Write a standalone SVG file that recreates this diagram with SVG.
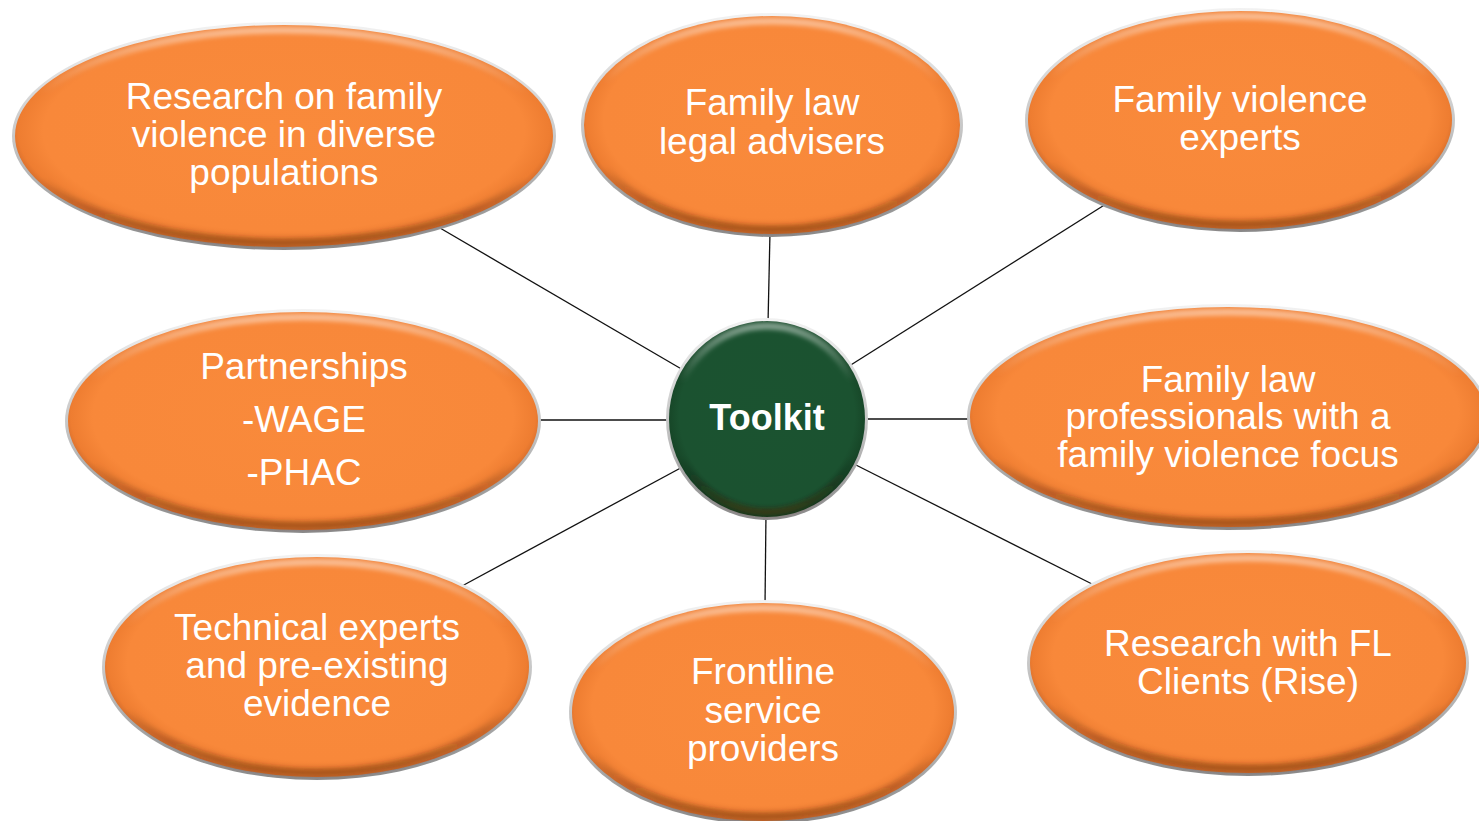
<svg xmlns="http://www.w3.org/2000/svg" width="1479" height="821" viewBox="0 0 1479 821">
  <defs>
    <!-- silver rim around every bubble -->
    <linearGradient id="rimGrad" x1="0" y1="0" x2="0" y2="1">
      <stop offset="0" stop-color="#f2f2f2"/>
      <stop offset="0.5" stop-color="#c8c8c8"/>
      <stop offset="1" stop-color="#8c8c8c"/>
    </linearGradient>
    <!-- orange body -->
    <radialGradient id="orangeBody" cx="0.5" cy="0.48" r="0.52">
      <stop offset="0" stop-color="#f98a3b"/>
      <stop offset="0.86" stop-color="#f8883a"/>
      <stop offset="0.95" stop-color="#ee7d31"/>
      <stop offset="1" stop-color="#c9662a"/>
    </radialGradient>
    <!-- green body -->
    <radialGradient id="greenBody" cx="0.5" cy="0.48" r="0.52">
      <stop offset="0" stop-color="#1b5330"/>
      <stop offset="0.86" stop-color="#1b5230"/>
      <stop offset="0.96" stop-color="#174728"/>
      <stop offset="1" stop-color="#0f3a1f"/>
    </radialGradient>
    <!-- bevel: light upper edge, darker lower edge -->
    <linearGradient id="bevelGrad" x1="0" y1="0" x2="0" y2="1">
      <stop offset="0" stop-color="#ffffff" stop-opacity="0.45"/>
      <stop offset="0.3" stop-color="#ffffff" stop-opacity="0"/>
      <stop offset="0.7" stop-color="#000000" stop-opacity="0"/>
      <stop offset="1" stop-color="#5a2a08" stop-opacity="0.45"/>
    </linearGradient>
    <filter id="soft" x="-5%" y="-5%" width="110%" height="110%">
      <feGaussianBlur stdDeviation="2"/>
    </filter>
    <style>
      .rim { fill: url(#rimGrad); }
      .body { fill: url(#orangeBody); }
      .hub .body { fill: url(#greenBody); }
      .bevel { fill: none; stroke: url(#bevelGrad); stroke-width: 7; filter: url(#soft); }
      .label { font-family: "Liberation Sans", Arial, sans-serif; font-size: 37px; fill: #ffffff; text-anchor: middle; }
      .hub .label { font-weight: bold; font-size: 36px; }
      .links line { stroke: #111111; stroke-width: 1.3; }
    </style>
  </defs>

  <rect width="1479" height="821" fill="#ffffff"/>

  <!-- spokes from the hub to each bubble -->
  <g class="links">
    <line x1="440" y1="228" x2="690" y2="374"/>
    <line x1="770" y1="232" x2="768" y2="324"/>
    <line x1="1106" y1="204" x2="846" y2="368"/>
    <line x1="536" y1="420" x2="674" y2="420"/>
    <line x1="860" y1="419" x2="972" y2="419"/>
    <line x1="462" y1="586" x2="688" y2="464"/>
    <line x1="766" y1="512" x2="765" y2="606"/>
    <line x1="850" y1="462" x2="1096" y2="586"/>
  </g>

  <g id="n-research-diverse">
    <ellipse class="rim" cx="284" cy="136" rx="272" ry="114"/>
    <ellipse class="body" cx="284" cy="136" rx="269" ry="111"/>
    <ellipse class="bevel" cx="284" cy="136" rx="264" ry="106"/>
    <text class="label" x="284" y="109">Research on family</text>
    <text class="label" x="284" y="147">violence in diverse</text>
    <text class="label" x="284" y="185">populations</text>
  </g>

  <g id="n-legal-advisers">
    <ellipse class="rim" cx="772" cy="125" rx="191" ry="112"/>
    <ellipse class="body" cx="772" cy="125" rx="188" ry="109"/>
    <ellipse class="bevel" cx="772" cy="125" rx="183" ry="104"/>
    <text class="label" x="772" y="115">Family law</text>
    <text class="label" x="772" y="154">legal advisers</text>
  </g>

  <g id="n-violence-experts">
    <ellipse class="rim" cx="1240" cy="120" rx="215" ry="112"/>
    <ellipse class="body" cx="1240" cy="120" rx="212" ry="109"/>
    <ellipse class="bevel" cx="1240" cy="120" rx="207" ry="104"/>
    <text class="label" x="1240" y="112">Family violence</text>
    <text class="label" x="1240" y="150">experts</text>
  </g>

  <g id="n-partnerships">
    <ellipse class="rim" cx="303" cy="421" rx="238" ry="112"/>
    <ellipse class="body" cx="303" cy="421" rx="235" ry="109"/>
    <ellipse class="bevel" cx="303" cy="421" rx="230" ry="104"/>
    <text class="label" x="304" y="379">Partnerships</text>
    <text class="label" x="304" y="432">-WAGE</text>
    <text class="label" x="304" y="485">-PHAC</text>
  </g>

  <g id="n-fl-professionals">
    <ellipse class="rim" cx="1228" cy="417" rx="261" ry="113"/>
    <ellipse class="body" cx="1228" cy="417" rx="258" ry="110"/>
    <ellipse class="bevel" cx="1228" cy="417" rx="253" ry="105"/>
    <text class="label" x="1228" y="392">Family law</text>
    <text class="label" x="1228" y="429">professionals with a</text>
    <text class="label" x="1228" y="467">family violence focus</text>
  </g>

  <g id="n-technical-experts">
    <ellipse class="rim" cx="317" cy="667" rx="215" ry="113"/>
    <ellipse class="body" cx="317" cy="667" rx="212" ry="110"/>
    <ellipse class="bevel" cx="317" cy="667" rx="207" ry="105"/>
    <text class="label" x="317" y="640">Technical experts</text>
    <text class="label" x="317" y="678">and pre-existing</text>
    <text class="label" x="317" y="716">evidence</text>
  </g>

  <g id="n-frontline">
    <ellipse class="rim" cx="763" cy="712" rx="194" ry="112"/>
    <ellipse class="body" cx="763" cy="712" rx="191" ry="109"/>
    <ellipse class="bevel" cx="763" cy="712" rx="186" ry="104"/>
    <text class="label" x="763" y="684">Frontline</text>
    <text class="label" x="763" y="723">service</text>
    <text class="label" x="763" y="761">providers</text>
  </g>

  <g id="n-fl-clients">
    <ellipse class="rim" cx="1248" cy="663" rx="221" ry="113"/>
    <ellipse class="body" cx="1248" cy="663" rx="218" ry="110"/>
    <ellipse class="bevel" cx="1248" cy="663" rx="213" ry="105"/>
    <text class="label" x="1248" y="656">Research with FL</text>
    <text class="label" x="1248" y="694">Clients (Rise)</text>
  </g>

  <g id="n-toolkit" class="hub">
    <circle class="rim" cx="767" cy="419" r="101"/>
    <circle class="body" cx="767" cy="419" r="98"/>
    <circle class="bevel" cx="767" cy="419" r="93"/>
    <text class="label" x="767" y="430">Toolkit</text>
  </g>
</svg>
